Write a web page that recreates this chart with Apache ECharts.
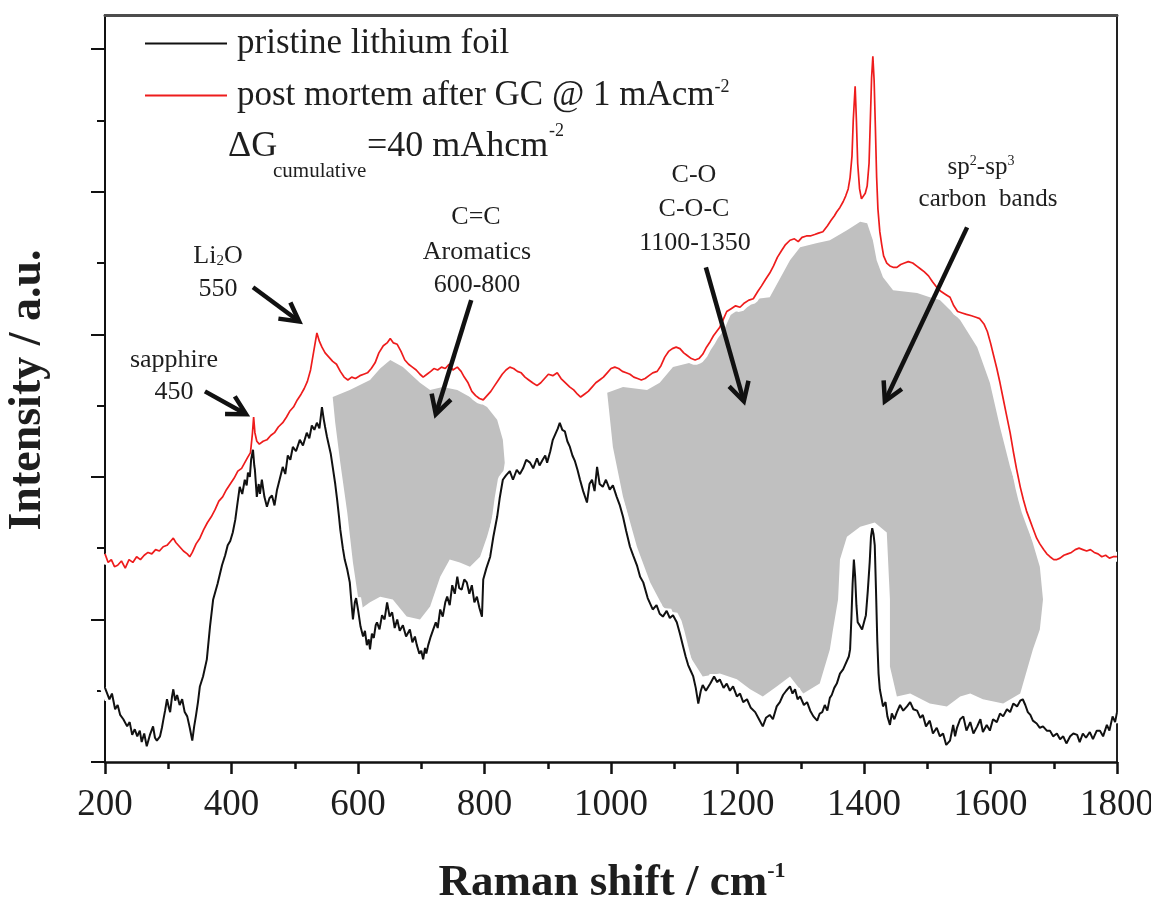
<!DOCTYPE html>
<html><head><meta charset="utf-8">
<script src="https://cdn.jsdelivr.net/npm/echarts@6/dist/echarts.min.js"></script>
<style>html,body{margin:0;padding:0;background:#fff}#c{width:1151px;height:904px}</style>
</head><body><div id="c"></div>
<script>
// ---------- data (Raman shift cm-1, intensity a.u.) ----------
const xTicks = [200, 400, 600, 800, 1000, 1200, 1400, 1600, 1800];
const yTicks = [0, 1, 2, 3, 4, 5];

const pristineName = 'pristine lithium foil';
const postName = 'post mortem after GC @ 1 mAcm-2';

const pristine = [
[200,0.52],[203,0.51],[207,0.44],[211,0.48],[216,0.37],[220,0.40],[224,0.33],[229,0.30],[235,0.25],[239,0.28],
[243,0.19],[247,0.23],[251,0.18],[255,0.22],[258,0.14],[262,0.20],[266,0.11],[271,0.19],[276,0.25],[279,0.17],
[282,0.15],[287,0.18],[290,0.24],[292,0.29],[295,0.36],[298,0.44],[301,0.38],[303,0.35],[306,0.46],[308,0.51],
[311,0.43],[314,0.47],[318,0.40],[322,0.44],[326,0.35],[330,0.32],[334,0.24],[338,0.15],[341,0.25],[344,0.33],
[347,0.42],[350,0.53],[355,0.60],[361,0.72],[366,0.95],[371,1.14],[378,1.25],[385,1.38],[390,1.45],[394,1.52],
[398,1.55],[402,1.61],[406,1.70],[409,1.80],[413,1.93],[417,1.88],[421,1.98],[424,1.94],[426,2.03],[429,2.00],
[431,2.12],[434,2.19],[436,2.08],[437,2.05],[440,1.86],[443,1.95],[445,1.88],[448,1.98],[452,1.86],[456,1.79],
[460,1.85],[464,1.87],[468,1.80],[472,1.91],[476,1.98],[481,2.07],[485,2.02],[489,2.15],[493,2.12],[497,2.21],
[502,2.18],[508,2.26],[513,2.22],[519,2.31],[523,2.27],[527,2.36],[531,2.33],[535,2.38],[539,2.34],[543,2.49],
[546,2.40],[548,2.35],[551,2.28],[554,2.22],[557,2.16],[560,2.07],[564,1.95],[567,1.84],[570,1.72],[572,1.63],
[576,1.50],[579,1.42],[583,1.35],[587,1.26],[590,1.10],[592,1.00],[595,1.12],[597,1.15],[600,1.07],[604,0.95],
[608,0.88],[611,0.92],[614,0.82],[617,0.86],[619,0.79],[622,0.90],[625,0.87],[628,0.96],[630,0.98],[634,0.93],
[638,1.03],[642,1.00],[646,1.12],[650,1.02],[654,1.05],[658,0.94],[662,1.00],[666,0.92],[671,0.96],[676,0.88],
[682,0.93],[686,0.84],[690,0.88],[693,0.82],[697,0.76],[700,0.78],[703,0.72],[706,0.80],[708,0.76],[711,0.82],
[715,0.88],[719,0.93],[723,0.98],[726,0.94],[730,1.07],[734,1.02],[738,1.12],[741,1.16],[745,1.10],[749,1.24],
[753,1.18],[757,1.30],[760,1.22],[764,1.21],[768,1.28],[772,1.26],[776,1.18],[780,1.24],[784,1.12],[788,1.16],
[792,1.08],[796,1.02],[798,1.28],[803,1.36],[809,1.44],[814,1.58],[820,1.72],[824,1.85],[829,1.98],[834,2.01],
[840,2.04],[845,1.98],[851,2.05],[856,2.02],[861,2.06],[866,2.12],[872,2.10],[877,2.06],[883,2.13],[887,2.08],
[892,2.12],[896,2.15],[899,2.10],[904,2.18],[908,2.26],[912,2.30],[916,2.34],[919,2.38],[923,2.33],[927,2.32],
[931,2.25],[935,2.21],[939,2.15],[943,2.11],[947,2.05],[951,1.98],[956,1.90],[962,1.82],[966,1.95],[970,1.98],
[974,1.90],[978,2.07],[982,1.95],[987,1.93],[992,1.98],[998,1.91],[1003,1.94],[1009,1.86],[1014,1.80],[1019,1.72],
[1024,1.62],[1030,1.51],[1035,1.45],[1041,1.38],[1046,1.30],[1051,1.26],[1058,1.15],[1066,1.07],[1072,1.10],[1077,1.04],
[1082,1.02],[1088,1.06],[1093,1.01],[1098,1.03],[1104,0.98],[1109,0.90],[1114,0.81],[1118,0.74],[1122,0.68],[1126,0.64],
[1130,0.60],[1134,0.52],[1138,0.41],[1142,0.50],[1145,0.54],[1150,0.50],[1157,0.55],[1163,0.60],[1168,0.56],[1172,0.58],
[1178,0.52],[1183,0.55],[1188,0.50],[1193,0.53],[1199,0.46],[1204,0.48],[1209,0.42],[1215,0.44],[1221,0.38],[1228,0.35],
[1234,0.30],[1240,0.25],[1245,0.31],[1251,0.33],[1256,0.30],[1262,0.39],[1267,0.42],[1272,0.47],[1277,0.50],[1283,0.53],
[1287,0.48],[1291,0.51],[1295,0.44],[1299,0.46],[1305,0.40],[1310,0.42],[1315,0.36],[1320,0.32],[1326,0.29],[1330,0.34],
[1334,0.35],[1338,0.40],[1342,0.36],[1346,0.45],[1349,0.47],[1353,0.52],[1357,0.55],[1362,0.62],[1367,0.65],[1370,0.68],
[1373,0.69],[1376,0.74],[1378,0.79],[1380,1.00],[1382,1.25],[1384,1.42],[1386,1.30],[1388,1.10],[1390,0.98],[1393,0.96],
[1397,0.93],[1400,0.98],[1403,1.03],[1406,1.20],[1409,1.40],[1411,1.58],[1413,1.64],[1415,1.60],[1417,1.52],[1419,1.20],
[1421,0.85],[1423,0.62],[1425,0.51],[1428,0.44],[1430,0.39],[1434,0.42],[1437,0.32],[1441,0.26],[1444,0.34],[1448,0.30],
[1452,0.35],[1457,0.40],[1462,0.36],[1468,0.39],[1473,0.42],[1478,0.37],[1484,0.36],[1489,0.31],[1493,0.33],[1498,0.25],
[1504,0.29],[1509,0.20],[1515,0.24],[1520,0.18],[1525,0.20],[1530,0.12],[1536,0.15],[1541,0.26],[1544,0.18],[1547,0.24],
[1552,0.30],[1557,0.32],[1562,0.22],[1568,0.28],[1573,0.20],[1579,0.25],[1584,0.30],[1588,0.21],[1594,0.26],[1599,0.22],
[1604,0.30],[1610,0.28],[1615,0.34],[1620,0.32],[1626,0.37],[1631,0.35],[1636,0.41],[1642,0.39],[1647,0.43],[1651,0.44],
[1655,0.40],[1659,0.35],[1663,0.33],[1667,0.29],[1673,0.27],[1678,0.24],[1683,0.25],[1689,0.22],[1694,0.22],[1699,0.18],
[1705,0.20],[1710,0.16],[1715,0.18],[1720,0.13],[1726,0.18],[1731,0.20],[1737,0.19],[1741,0.14],[1746,0.20],[1751,0.17],
[1757,0.21],[1762,0.16],[1768,0.22],[1773,0.22],[1778,0.18],[1784,0.26],[1788,0.22],[1793,0.32],[1797,0.28],[1800,0.35]
];

const postMortem = [
[200,1.46],[205,1.40],[210,1.42],[215,1.37],[220,1.38],[226,1.41],[232,1.36],[238,1.42],[244,1.40],[250,1.44],
[256,1.42],[262,1.45],[268,1.47],[274,1.46],[280,1.49],[286,1.48],[292,1.51],[298,1.52],[304,1.55],[308,1.57],
[312,1.54],[318,1.51],[324,1.48],[330,1.46],[334,1.44],[338,1.47],[344,1.53],[350,1.57],[356,1.63],[362,1.68],
[368,1.72],[374,1.77],[380,1.83],[386,1.86],[392,1.91],[398,1.95],[404,1.99],[410,2.04],[416,2.06],[421,2.10],
[426,2.14],[430,2.17],[433,2.30],[435,2.42],[437,2.31],[440,2.25],[444,2.23],[450,2.25],[456,2.26],[462,2.29],
[468,2.31],[474,2.35],[481,2.38],[487,2.42],[492,2.46],[498,2.49],[504,2.54],[510,2.58],[515,2.62],[520,2.67],
[525,2.75],[530,2.88],[535,3.01],[539,2.95],[543,2.91],[548,2.87],[554,2.84],[560,2.81],[566,2.79],[572,2.74],
[578,2.70],[584,2.68],[590,2.70],[596,2.69],[603,2.71],[609,2.72],[615,2.73],[621,2.76],[627,2.80],[633,2.87],
[640,2.92],[646,2.94],[651,2.97],[656,2.94],[662,2.93],[668,2.88],[674,2.82],[680,2.79],[686,2.77],[692,2.75],
[698,2.72],[703,2.70],[709,2.72],[715,2.74],[720,2.76],[726,2.75],[732,2.77],[738,2.76],[744,2.79],[750,2.75],
[757,2.77],[763,2.74],[768,2.70],[774,2.66],[780,2.60],[786,2.57],[792,2.55],[798,2.54],[804,2.57],[810,2.60],
[816,2.64],[822,2.68],[828,2.72],[834,2.75],[840,2.77],[846,2.76],[852,2.74],[858,2.73],[864,2.70],[870,2.68],
[876,2.66],[883,2.64],[889,2.66],[895,2.69],[901,2.72],[908,2.71],[915,2.73],[921,2.69],[928,2.66],[935,2.63],
[941,2.61],[947,2.58],[952,2.56],[958,2.58],[964,2.60],[970,2.63],[976,2.66],[982,2.68],[988,2.70],[994,2.73],
[1000,2.76],[1006,2.77],[1012,2.76],[1018,2.74],[1024,2.73],[1030,2.72],[1036,2.70],[1042,2.69],[1048,2.68],[1054,2.69],
[1060,2.71],[1066,2.73],[1073,2.74],[1079,2.78],[1085,2.84],[1091,2.88],[1097,2.90],[1103,2.91],[1109,2.90],[1115,2.87],
[1121,2.85],[1127,2.83],[1133,2.82],[1139,2.83],[1145,2.86],[1151,2.91],[1157,2.95],[1162,2.99],[1167,3.02],[1172,3.05],
[1177,3.10],[1183,3.16],[1190,3.18],[1197,3.20],[1204,3.19],[1211,3.22],[1218,3.24],[1225,3.25],[1232,3.30],[1238,3.34],
[1245,3.39],[1251,3.43],[1257,3.48],[1263,3.54],[1270,3.59],[1276,3.63],[1283,3.66],[1290,3.67],[1296,3.65],[1302,3.68],
[1309,3.69],[1315,3.69],[1322,3.70],[1328,3.71],[1335,3.72],[1342,3.76],[1348,3.80],[1353,3.83],[1357,3.86],[1362,3.89],
[1367,3.93],[1371,3.97],[1375,4.02],[1378,4.10],[1381,4.25],[1383,4.50],[1386,4.74],[1388,4.50],[1390,4.20],[1393,4.02],
[1396,3.95],[1399,3.94],[1402,3.99],[1405,4.04],[1408,4.20],[1410,4.50],[1412,4.80],[1414,4.95],[1416,4.78],[1418,4.45],
[1420,4.10],[1422,3.88],[1425,3.72],[1428,3.63],[1431,3.55],[1436,3.50],[1441,3.48],[1446,3.47],[1452,3.47],[1458,3.49],
[1464,3.50],[1470,3.51],[1477,3.50],[1483,3.48],[1489,3.46],[1495,3.44],[1502,3.41],[1508,3.37],[1515,3.33],[1522,3.30],
[1529,3.28],[1536,3.26],[1542,3.20],[1548,3.16],[1555,3.15],[1562,3.14],[1570,3.13],[1577,3.12],[1583,3.11],[1590,3.07],
[1595,3.02],[1600,2.94],[1605,2.85],[1610,2.76],[1615,2.66],[1620,2.55],[1625,2.44],[1631,2.31],[1636,2.18],[1641,2.06],
[1647,1.93],[1652,1.84],[1657,1.76],[1662,1.70],[1667,1.64],[1673,1.57],[1678,1.53],[1684,1.49],[1689,1.46],[1694,1.44],
[1700,1.42],[1705,1.42],[1710,1.43],[1716,1.45],[1722,1.46],[1728,1.47],[1734,1.49],[1740,1.50],[1746,1.49],[1752,1.48],
[1758,1.49],[1764,1.47],[1770,1.46],[1776,1.44],[1782,1.45],[1788,1.43],[1794,1.44],[1800,1.44]
];

// hand-drawn grey highlight regions (outline vertices in data units)
const shadeAromatics = [
[560,2.56],[587,2.61],[619,2.68],[635,2.76],[651,2.82],[671,2.77],[698,2.66],[714,2.61],[734,2.63],[757,2.61],
[777,2.56],[804,2.49],[820,2.40],[829,2.26],[832,2.10],[828,1.98],[813,1.72],[804,1.58],[793,1.44],[777,1.37],
[761,1.40],[745,1.42],[730,1.30],[714,1.09],[698,1.00],[677,1.02],[655,1.14],[635,1.16],[619,1.12],[603,1.07],
[592,1.40],[583,1.75],[572,2.10],[564,2.38]
];
const shadeCarbon = [
[994,2.59],[1019,2.63],[1057,2.61],[1077,2.66],[1098,2.77],[1125,2.80],[1141,2.84],[1161,2.98],[1183,3.15],[1215,3.24],
[1251,3.26],[1283,3.52],[1299,3.61],[1326,3.64],[1346,3.66],[1373,3.73],[1394,3.79],[1405,3.78],[1414,3.66],[1420,3.52],
[1430,3.40],[1446,3.31],[1484,3.29],[1504,3.26],[1520,3.24],[1552,3.10],[1579,2.91],[1599,2.66],[1615,2.35],[1631,2.07],
[1647,1.84],[1662,1.61],[1678,1.37],[1683,1.14],[1678,0.93],[1667,0.79],[1647,0.48],[1620,0.41],[1588,0.44],[1568,0.48],
[1552,0.46],[1531,0.39],[1504,0.41],[1473,0.48],[1452,0.46],[1441,0.67],[1441,1.14],[1436,1.61],[1417,1.68],[1394,1.65],
[1373,1.58],[1362,1.42],[1359,1.14],[1351,0.93],[1346,0.79],[1330,0.55],[1304,0.48],[1283,0.60],[1262,0.53],[1240,0.46],
[1220,0.51],[1199,0.58],[1172,0.62],[1145,0.60],[1125,0.74],[1104,1.00],[1082,1.09],[1062,1.26],[1041,1.51],[1019,1.86],
[1003,2.21]
];

// annotation arrows: [xStart, yStart, xTip, yTip]
const arrows = [
[358,2.60,423,2.44],
[434,3.33,507,3.09],
[779,3.24,723,2.44],
[1150,3.47,1210,2.53],
[1563,3.75,1433,2.53]
];

// ---------- chart ----------
const SERIF = "'Liberation Serif','Times New Roman',serif";
const TXT = '#1e1e1e';
const chart = echarts.init(document.getElementById('c'), null, {renderer: 'canvas'});

function shade(pts, name) {
  return {
    type: 'custom', name: name, coordinateSystem: 'cartesian2d', silent: true, z: 1,
    data: [pts[0]],
    renderItem: function (params, api) {
      return {type: 'polygon', shape: {points: pts.map(p => api.coord(p))}, style: {fill: '#c0c0c0'}};
    }
  };
}
function halo(data) {
  return {type: 'line', data: data, symbol: 'none', silent: true, z: 2,
    lineStyle: {color: '#ffffff', width: 10}, animation: false};
}

const option = {
  animation: false,
  backgroundColor: '#ffffff',
  grid: {left: 105, right: 34, top: 15, bottom: 142, containLabel: false, outerBoundsMode: 'none'},
  legend: {
    data: [{name: pristineName, icon: 'rect'}, {name: postName, icon: 'rect'}],
    orient: 'vertical', left: 145, top: 26, padding: 0,
    itemWidth: 82, itemHeight: 2, itemGap: 17,
    textStyle: {
      fontFamily: SERIF, fontSize: 35, color: TXT, padding: [0, 0, 0, 5],
      rich: {sup: {fontFamily: SERIF, fontSize: 18, color: TXT, verticalAlign: 'top'}}
    },
    formatter: function (n) { return n === postName ? 'post mortem after GC @ 1 mAcm{sup|-2}' : n; }
  },
  xAxis: [{
    type: 'value', min: xTicks[0], max: xTicks[xTicks.length - 1], interval: 200, position: 'bottom',
    axisLine: {show: true, onZero: false, lineStyle: {color: '#111', width: 2.5}},
    axisTick: {show: true, length: 12, lineStyle: {color: '#111', width: 2.5}},
    minorTick: {show: true, splitNumber: 2, length: 7, lineStyle: {color: '#111', width: 2.5}},
    axisLabel: {fontFamily: SERIF, fontSize: 37, color: TXT, margin: 25, formatter: v => String(v)},
    splitLine: {show: false}
  }, {
    type: 'value', min: xTicks[0], max: xTicks[xTicks.length - 1], position: 'top',
    axisLine: {show: true, onZero: false, lineStyle: {color: '#4d4d4d', width: 3}},
    axisTick: {show: false}, axisLabel: {show: false}, splitLine: {show: false}
  }],
  yAxis: [{
    type: 'value', min: 0, max: 5.24, interval: 1, position: 'left',
    axisLine: {show: true, onZero: false, lineStyle: {color: '#111', width: 2}},
    axisTick: {show: true, customValues: yTicks, length: 14, lineStyle: {color: '#111', width: 2}},
    minorTick: {show: true, splitNumber: 2, length: 8, lineStyle: {color: '#111', width: 2}},
    axisLabel: {show: false},
    splitLine: {show: false}
  }, {
    type: 'value', min: 0, max: 5.24, position: 'right',
    axisLine: {show: true, onZero: false, lineStyle: {color: '#222', width: 2}},
    axisTick: {show: false}, axisLabel: {show: false}, splitLine: {show: false}
  }],
  series: [
    shade(shadeAromatics, 'shadeA'),
    shade(shadeCarbon, 'shadeB'),
    halo(pristine),
    halo(postMortem),
    {name: postName, type: 'line', data: postMortem, symbol: 'none', z: 3,
     lineStyle: {color: '#ee1c1c', width: 1.7}, itemStyle: {color: '#ee1c1c'}},
    {name: pristineName, type: 'line', data: pristine, symbol: 'none', z: 4,
     lineStyle: {color: '#111111', width: 2}, itemStyle: {color: '#111111'}},
    {
      type: 'custom', name: 'arrows', coordinateSystem: 'cartesian2d', silent: true, z: 5,
      encode: {x: [0, 2], y: [1, 3]},
      data: arrows,
      renderItem: function (params, api) {
        const a = api.coord([api.value(0), api.value(1)]);
        const b = api.coord([api.value(2), api.value(3)]);
        const ang = Math.atan2(b[1] - a[1], b[0] - a[0]);
        const L = 21, w = 0.5;
        const h1 = [b[0] - L * Math.cos(ang - w), b[1] - L * Math.sin(ang - w)];
        const h2 = [b[0] - L * Math.cos(ang + w), b[1] - L * Math.sin(ang + w)];
        return {type: 'group', children: [
          {type: 'line', shape: {x1: a[0], y1: a[1], x2: b[0] - 2 * Math.cos(ang), y2: b[1] - 2 * Math.sin(ang)},
           style: {stroke: '#111', lineWidth: 4.5}},
          {type: 'polyline', shape: {points: [h1, b, h2]},
           style: {stroke: '#111', lineWidth: 4.5, fill: null, lineJoin: 'miter'}}
        ]};
      }
    }
  ],
  graphic: [
    // axis titles
    {type: 'text', x: 612, y: 883, style: {
      text: '{a|Raman shift / cm}{s|-1}', align: 'center', verticalAlign: 'middle',
      textAlign: 'center', textVerticalAlign: 'middle',
      rich: {a: {fontFamily: SERIF, fontWeight: 'bold', fontSize: 45, fill: TXT, color: TXT},
             s: {fontFamily: SERIF, fontWeight: 'bold', fontSize: 22, fill: TXT, color: TXT, verticalAlign: 'top'}}}},
    {type: 'text', x: 28, y: 390, rotation: Math.PI / 2, style: {
      text: 'Intensity / a.u.', fontFamily: SERIF, fontWeight: 'bold', fontSize: 46, fill: TXT,
      align: 'center', verticalAlign: 'middle', textAlign: 'center', textVerticalAlign: 'middle'}},
    // cumulative capacity note
    {type: 'text', x: 228, y: 147, style: {text: 'ΔG', fontFamily: SERIF, fontSize: 36, fill: TXT, verticalAlign: 'middle', textVerticalAlign: 'middle'}},
    {type: 'text', x: 273, y: 171, style: {text: 'cumulative', fontFamily: SERIF, fontSize: 21, fill: TXT, verticalAlign: 'middle', textVerticalAlign: 'middle'}},
    {type: 'text', x: 367, y: 147, style: {text: '=40 mAhcm', fontFamily: SERIF, fontSize: 36, fill: TXT, verticalAlign: 'middle', textVerticalAlign: 'middle'}},
    {type: 'text', x: 549, y: 131, style: {text: '-2', fontFamily: SERIF, fontSize: 18, fill: TXT, verticalAlign: 'middle', textVerticalAlign: 'middle'}},
    // peak annotations
    {type: 'text', x: 174, y: 360, style: {text: 'sapphire', fontFamily: SERIF, fontSize: 26, fill: TXT, align: 'center', verticalAlign: 'middle', textAlign: 'center', textVerticalAlign: 'middle'}},
    {type: 'text', x: 174, y: 392, style: {text: '450', fontFamily: SERIF, fontSize: 26, fill: TXT, align: 'center', verticalAlign: 'middle', textAlign: 'center', textVerticalAlign: 'middle'}},
    {type: 'text', x: 218, y: 256, style: {text: 'Li{sub|2}O', fontFamily: SERIF, fontSize: 26, fill: TXT, align: 'center', verticalAlign: 'middle', textAlign: 'center', textVerticalAlign: 'middle',
      rich: {sub: {fontFamily: SERIF, fontSize: 15, fill: TXT, color: TXT, verticalAlign: 'bottom', padding: [8, 0, 0, 0]}}}},
    {type: 'text', x: 218, y: 289, style: {text: '550', fontFamily: SERIF, fontSize: 26, fill: TXT, align: 'center', verticalAlign: 'middle', textAlign: 'center', textVerticalAlign: 'middle'}},
    {type: 'text', x: 476, y: 217, style: {text: 'C=C', fontFamily: SERIF, fontSize: 26, fill: TXT, align: 'center', verticalAlign: 'middle', textAlign: 'center', textVerticalAlign: 'middle'}},
    {type: 'text', x: 477, y: 252, style: {text: 'Aromatics', fontFamily: SERIF, fontSize: 26, fill: TXT, align: 'center', verticalAlign: 'middle', textAlign: 'center', textVerticalAlign: 'middle'}},
    {type: 'text', x: 477, y: 285, style: {text: '600-800', fontFamily: SERIF, fontSize: 26, fill: TXT, align: 'center', verticalAlign: 'middle', textAlign: 'center', textVerticalAlign: 'middle'}},
    {type: 'text', x: 694, y: 175, style: {text: 'C-O', fontFamily: SERIF, fontSize: 26, fill: TXT, align: 'center', verticalAlign: 'middle', textAlign: 'center', textVerticalAlign: 'middle'}},
    {type: 'text', x: 694, y: 209, style: {text: 'C-O-C', fontFamily: SERIF, fontSize: 26, fill: TXT, align: 'center', verticalAlign: 'middle', textAlign: 'center', textVerticalAlign: 'middle'}},
    {type: 'text', x: 695, y: 243, style: {text: '1100-1350', fontFamily: SERIF, fontSize: 26, fill: TXT, align: 'center', verticalAlign: 'middle', textAlign: 'center', textVerticalAlign: 'middle'}},
    {type: 'text', x: 981, y: 167, style: {text: 'sp{sup|2}-sp{sup|3}', fontFamily: SERIF, fontSize: 25, fill: TXT, align: 'center', verticalAlign: 'middle', textAlign: 'center', textVerticalAlign: 'middle',
      rich: {sup: {fontFamily: SERIF, fontSize: 14, fill: TXT, color: TXT, verticalAlign: 'top'}}}},
    {type: 'text', x: 988, y: 199, style: {text: 'carbon  bands', fontFamily: SERIF, fontSize: 25, fill: TXT, align: 'center', verticalAlign: 'middle', textAlign: 'center', textVerticalAlign: 'middle'}}
  ]
};
chart.setOption(option);
</script>
</body></html>
